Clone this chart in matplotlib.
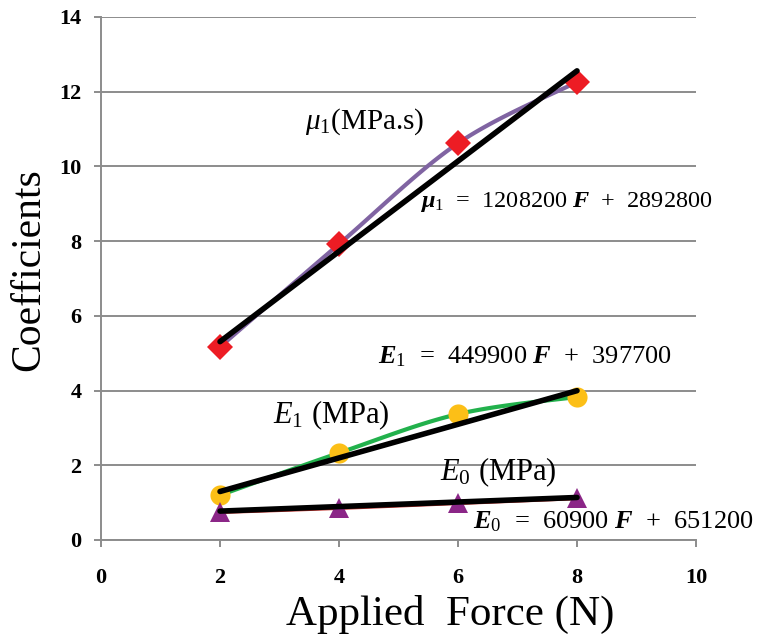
import numpy as np
import matplotlib
matplotlib.use("Agg")
import matplotlib.pyplot as plt

plt.rcParams["font.family"] = ["Liberation Serif", "DejaVu Serif"]
plt.rcParams["mathtext.fontset"] = "custom"
plt.rcParams["mathtext.rm"] = "Liberation Serif"
plt.rcParams["mathtext.it"] = "Liberation Serif:italic"
plt.rcParams["mathtext.bf"] = "Liberation Serif:bold"
plt.rcParams["mathtext.bfit"] = "Liberation Serif:bold:italic"

# --- data ---
force = [2, 4, 6, 8]
mu1 = [5.17, 7.92, 10.62, 12.26]
e1 = [1.20, 2.33, 3.37, 3.83]
e0 = [0.75, 0.86, 0.99, 1.12]

# linear fits (slope, intercept) in Pa units
fit_mu1 = (1208200, 2892800)
fit_e1 = (449900, 397700)
fit_e0 = (60900, 651200)
SCALE = 1e6

xticks = [0, 2, 4, 6, 8, 10]
yticks = [0, 2, 4, 6, 8, 10, 12, 14]


def smooth(x, y, n=30):
    # Catmull-Rom curve through the points, end points repeated
    x = np.asarray(x, float)
    y = np.asarray(y, float)
    px = np.concatenate([[x[0]], x, [x[-1]]])
    py = np.concatenate([[y[0]], y, [y[-1]]])
    xs, ys = [], []
    t = np.linspace(0, 1, n)
    for i in range(1, len(px) - 2):
        for p, out in ((px, xs), (py, ys)):
            p0, p1, p2, p3 = p[i - 1], p[i], p[i + 1], p[i + 2]
            out.extend(0.5 * (2 * p1 + (-p0 + p2) * t
                              + (2 * p0 - 5 * p1 + 4 * p2 - p3) * t ** 2
                              + (-p0 + 3 * p1 - 3 * p2 + p3) * t ** 3))
    return np.array(xs), np.array(ys)


fig = plt.figure(figsize=(7.73, 6.43), dpi=100)
ax = fig.add_axes([0.1307, 0.1602, 0.7697, 0.8134])

grid_c = "#8c8c8c"
ax.set_xlim(0, 10)
ax.set_ylim(0, 14)
ax.set_xticks(xticks)
ax.set_yticks(yticks)
ax.yaxis.grid(True, color=grid_c, linewidth=1.4)
ax.set_axisbelow(True)
for s in ["top", "right"]:
    ax.spines[s].set_visible(False)
for s in ["left", "bottom"]:
    ax.spines[s].set_color(grid_c)
    ax.spines[s].set_linewidth(1.4)
ax.tick_params(axis="both", direction="out", length=5, width=1.4, color=grid_c,
               labelsize=16)
ax.tick_params(axis="x", pad=15)
ax.tick_params(axis="y", pad=9)
for lab in ax.get_xticklabels() + ax.get_yticklabels():
    lab.set_fontweight("bold")

xf = np.array([force[0], force[-1]], float)

series = [
    (mu1, fit_mu1, "#8064a2", "D", "#ed1c24", 13),
    (e1, fit_e1, "#22b14c", "o", "#fcbf17", 14.5),
    (e0, fit_e0, "#c0302a", "^", "#8b2687", 15),
]
for vals, (m, b), lc, mk, mc, ms in series:
    sx, sy = smooth(force, vals)
    ax.plot(sx, sy, color=lc, linewidth=3, zorder=2, solid_capstyle="round")
    ax.plot(force, vals, linestyle="none", marker=mk, markersize=ms,
            color=mc, markeredgewidth=0, zorder=3)
    ax.plot(xf, (m * xf + b) / SCALE, color="black", linewidth=4,
            solid_capstyle="round", zorder=4)

ax.text(3.43, 11.2, r"$\mathit{\mu}_1$(MPa.s)", fontsize=21, va="center")
ax.text(5.36, 9.05, r"$\mathbfit{\mu}_1$  =  1208200 $\mathbfit{F}$  +  2892800",
        fontsize=17.5, va="center")
ax.text(4.66, 4.9, r"$\mathbfit{E}_1$  =  449900 $\mathbfit{F}$  +  397700",
        fontsize=19, va="center")
ax.text(2.89, 3.35, r"$\mathit{E}_1$ (MPa)", fontsize=22, va="center")
ax.text(5.70, 1.82, r"$\mathit{E}_0$ (MPa)", fontsize=22, va="center")
ax.text(6.25, 0.5, r"$\mathbfit{E}_0$  =  60900 $\mathbfit{F}$  +  651200",
        fontsize=19, va="center")

ax.set_xlabel("Applied  Force (N)", fontsize=31, labelpad=5, x=0.587)
ax.set_ylabel("Coefficients", fontsize=30, labelpad=8, y=0.516)

fig.savefig("out.png", dpi=100)
